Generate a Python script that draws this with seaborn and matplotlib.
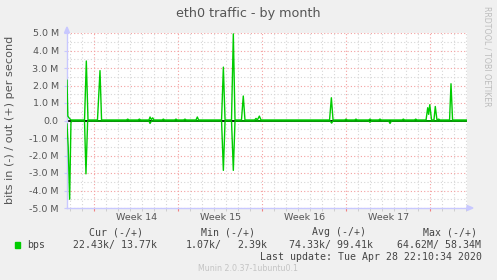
import numpy as np
import pandas as pd
import matplotlib
matplotlib.use("Agg")
import matplotlib.pyplot as plt
from matplotlib.patches import Rectangle
from matplotlib.ticker import MultipleLocator, FixedLocator, FuncFormatter
import seaborn as sns

# ---------------- data (x in days from graph start, y in Mbit/s) ----------------
out_days = [0.0, 0.07, 0.17, 0.33, 1.46, 1.61, 1.75, 2.54, 2.75, 2.88,
            4.95, 5.06, 5.17, 5.92, 6.03, 6.14, 6.83, 6.92, 7.03, 7.14, 7.25,
            7.92, 8.03, 8.14, 8.97, 9.08, 9.19, 9.72, 9.83, 9.94, 10.75, 10.86, 10.97,
            12.88, 13.03, 13.17, 13.71, 13.86, 14.0, 14.54, 14.69, 14.83,
            15.64, 15.75, 15.86, 16.03, 16.17, 21.88, 22.03, 22.17,
            23.14, 23.25, 23.36, 23.97, 24.08, 24.19, 25.14, 25.25, 25.36,
            25.97, 26.08, 26.19, 27.92, 28.03, 28.14, 28.95, 29.06, 29.17,
            29.92, 30.06, 30.14, 30.23, 30.38, 30.58, 30.69, 30.83, 30.97, 31.08,
            31.88, 32.0, 32.13, 33.33]
out_mbps = [2.3, 0.25, 0.15, 0.03, 0.03, 3.4, 0.03, 0.03, 2.85, 0.03,
            0.03, 0.08, 0.03, 0.03, 0.08, 0.03, 0.03, 0.2, 0.05, 0.15, 0.03,
            0.03, 0.08, 0.03, 0.03, 0.08, 0.03, 0.03, 0.08, 0.03, 0.03, 0.2, 0.03,
            0.03, 3.05, 0.03, 0.03, 4.95, 0.03, 0.03, 1.4, 0.03,
            0.03, 0.12, 0.03, 0.25, 0.03, 0.03, 1.3, 0.03,
            0.03, 0.08, 0.03, 0.03, 0.08, 0.03, 0.03, 0.08, 0.03,
            0.03, 0.08, 0.03, 0.03, 0.08, 0.03, 0.03, 0.08, 0.03,
            0.03, 0.73, 0.35, 0.9, 0.03, 0.03, 0.8, 0.03, 0.08, 0.03,
            0.03, 2.1, 0.03, 0.03]

in_days = [0.0, 0.1, 0.22, 0.33, 0.45, 1.46, 1.58, 1.72, 6.83, 6.92, 7.03,
           12.88, 13.03, 13.17, 13.71, 13.86, 14.0, 21.94, 22.05, 22.16,
           25.14, 25.25, 25.36, 26.81, 26.92, 27.03, 33.33]
in_mbps = [-0.2, -1.5, -4.5, -0.1, -0.03, -0.03, -3.05, -0.03, -0.03, -0.17, -0.03,
           -0.03, -2.85, -0.03, -0.03, -2.85, -0.03, -0.03, -0.15, -0.03,
           -0.03, -0.1, -0.03, -0.03, -0.17, -0.03, -0.03]

week_starts = [2.28, 9.28, 16.28, 23.28, 30.28]
week_labels = ["Week 14", "Week 15", "Week 16", "Week 17"]

legend_name = "bps"
legend_headers = ["Cur (-/+)", "Min (-/+)", "Avg (-/+)", "Max (-/+)"]
legend_values = ["22.43k/ 13.77k", "1.07k/", "2.39k", "74.33k/ 99.41k", "64.62M/ 58.34M"]

title = "eth0 traffic - by month"
ylabel = "bits in (-) / out (+) per second"
last_update = "Last update: Tue Apr 28 22:10:34 2020"
footer = "Munin 2.0.37-1ubuntu0.1"
side_text = "RRDTOOL / TOBI OETIKER"

df_out = pd.DataFrame({"day": out_days, "bps": np.array(out_mbps) * 1e6})
df_in = pd.DataFrame({"day": in_days, "bps": np.array(in_mbps) * 1e6})

# ---------------- figure ----------------
W, H = 497, 280
fig = plt.figure(figsize=(W / 100, H / 100), dpi=100, facecolor="#f0f0f0")


def fx(x):
    return x / W


def fy(y):
    return 1 - y / H


ax = fig.add_axes([fx(67), fy(208), 400 / W, 175 / H])
ax.set_facecolor("white")

GREEN = "#00cc00"
TXT = "#555555"

ax.axhline(0, color="black", lw=1.3, zorder=2)
sns.lineplot(data=df_in, x="day", y="bps", ax=ax, color=GREEN, lw=1.0,
             estimator=None, sort=True, zorder=3)
sns.lineplot(data=df_out, x="day", y="bps", ax=ax, color=GREEN, lw=1.0,
             estimator=None, sort=True, zorder=3)

ax.set_xlim(0, 400 / 12)
ax.set_ylim(-5e6, 5e6)

# grid
ax.xaxis.set_major_locator(FixedLocator(week_starts))
minor_days = [week_starts[0] + k for k in range(-2, 32)]
ax.xaxis.set_minor_locator(FixedLocator(minor_days))
ax.yaxis.set_major_locator(MultipleLocator(1e6))
ax.yaxis.set_minor_locator(MultipleLocator(0.5e6))
ax.grid(which="minor", color="#d6d6d6", lw=0.8, ls=(0, (1, 2)), zorder=0)
ax.grid(which="major", color="#f4a0a0", lw=0.8, ls=(0, (1, 2)), zorder=1)
ax.set_axisbelow(True)


def yfmt(v, pos):
    if abs(v) < 1:
        return "0.0"
    return f"{v / 1e6:.1f} M"


ax.yaxis.set_major_formatter(FuncFormatter(yfmt))
ax.set_xticklabels([])
ax.tick_params(axis="y", which="both", length=2, color="#c8c8ff", labelsize=6.8,
               labelcolor=TXT, pad=4)
ax.tick_params(axis="y", which="minor", length=0)
ax.tick_params(axis="x", which="major", length=2.5, color="#f08080")
ax.tick_params(axis="x", which="minor", length=2.5, color="#c8c8c8")
ax.set_xlabel("")
ax.set_ylabel("")

for s in ["top", "right"]:
    ax.spines[s].set_visible(False)
for s in ["left", "bottom"]:
    ax.spines[s].set_color("#c8c8ff")
    ax.spines[s].set_linewidth(1.0)

# axis arrows
fig.patches.append(plt.Polygon([[fx(64.5), fy(33)], [fx(69.5), fy(33)], [fx(67), fy(27)]],
                               closed=True, color="#c8c8ff", transform=fig.transFigure))
fig.patches.append(plt.Polygon([[fx(467), fy(205.5)], [fx(467), fy(210.5)], [fx(473), fy(208)]],
                               closed=True, color="#c8c8ff", transform=fig.transFigure))

# week labels centred between week boundaries
for i, lab in enumerate(week_labels):
    mid = (week_starts[i] + week_starts[i + 1]) / 2
    ax.text(mid, -9.7 / 175, lab, transform=ax.get_xaxis_transform(),
            ha="center", va="center", fontsize=6.8, color=TXT)

# texts
fig.text(fx(248), fy(13), title, ha="center", va="center", fontsize=9.2, color=TXT)
fig.text(fx(10), fy(120), ylabel, rotation=90, ha="center", va="center",
         fontsize=8.1, color=TXT)
fig.text(fx(487), fy(56), side_text, rotation=270, ha="center", va="center",
         fontsize=5.7, color="#bdbdbd")

mono = "DejaVu Sans Mono"
LEG = "#444444"
fig.patches.append(Rectangle((fx(14.5), fy(248)), 5.5 / W, 6 / H, color=GREEN,
                             transform=fig.transFigure))
fig.text(fx(26.7), fy(245), legend_name, ha="left", va="center", family=mono,
         fontsize=7.1, color=LEG)
for x, h in zip([89.3, 201, 312.3, 423], legend_headers):
    fig.text(fx(x), fy(232.3), h, ha="left", va="center", family=mono,
             fontsize=7.1, color=LEG)
for x, v in zip([72.7, 186.2, 237.3, 289.3, 397.3], legend_values):
    fig.text(fx(x), fy(245), v, ha="left", va="center", family=mono,
             fontsize=7.1, color=LEG)
fig.text(fx(482.5), fy(256.7), last_update, ha="right", va="center", family=mono,
         fontsize=7.1, color=LEG)
fig.text(fx(248), fy(268.3), footer, ha="center", va="center", fontsize=5.7,
         color="#c4c4c4")

fig.savefig("out.png", dpi=100, facecolor=fig.get_facecolor())
